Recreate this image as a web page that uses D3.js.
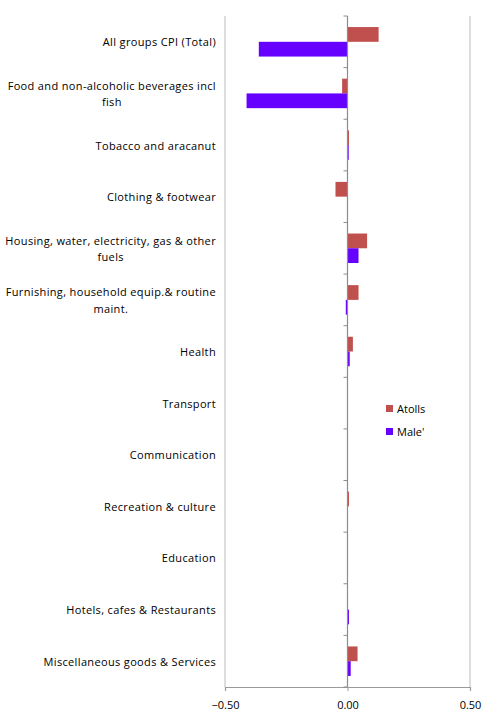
<!DOCTYPE html>
<html>
<head>
<meta charset="utf-8">
<script src="https://cdn.jsdelivr.net/npm/d3@7"></script>
<style>
  body { margin: 0; background: #fff; }
  text { font-family: "Open Sans", Lato, sans-serif; fill: #000; }
</style>
</head>
<body>
<div id="cpi-chart"></div>
<script>

// categories, top to bottom
var categories = [
    "All groups CPI (Total)",
    "Food and non-alcoholic beverages incl fish",
    "Tobacco and aracanut",
    "Clothing & footwear",
    "Housing, water, electricity, gas & other fuels",
    "Furnishing, household equip.& routine maint.",
    "Health",
    "Transport",
    "Communication",
    "Recreation & culture ",
    "Education",
    "Hotels, cafes & Restaurants ",
    "Miscellaneous goods & Services"
];

var seriesNames = ["Atolls", "Male'"];

// values
var atollsValues = [0.127, -0.022, 0.006, -0.049, 0.080, 0.045, 0.022, 0, 0, 0.006, 0, 0, 0.041];
var maleValues   = [-0.362, -0.412, 0.005, 0, 0.045, -0.007, 0.009, 0, 0, 0, 0, 0.006, 0.013];

var xTicks = [-0.5, 0, 0.5];

var colors = {"Atolls": "#C0504D", "Male'": "#6600FF"};

function CpiChart(){
    var self = this;
    self.init();
};

CpiChart.prototype.init = function(){
    var self = this;
    self.svgWidth = 482;
    self.svgHeight = 711;
    self.plot = {left: 225, right: 470, top: 16, bottom: 687};

    self.svg = d3.select("#cpi-chart").append("svg")
        .attr("width", self.svgWidth)
        .attr("height", self.svgHeight);
};

// wrap long category names, extra lines centred under the first one
CpiChart.prototype.wrap = function(textSel, width){
    textSel.each(function(){
        var text = d3.select(this);
        var words = text.text().trim().split(/\s+/);
        var right = +text.attr("x");
        text.text(null);
        var line = [];
        var lines = [];
        var tspan = text.append("tspan");
        for (var i = 0; i < words.length; i++){
            line.push(words[i]);
            tspan.text(line.join(" "));
            if (tspan.node().getComputedTextLength() > width && line.length > 1){
                line.pop();
                lines.push(line.join(" "));
                line = [words[i]];
            }
        }
        lines.push(line.join(" "));
        tspan.text(lines[0]);
        var firstWidth = tspan.node().getComputedTextLength();
        text.text(null);
        var lh = 16.5;
        var y0 = -(lines.length - 1) * lh / 2;
        lines.forEach(function(l, k){
            text.append("tspan")
                .attr("x", k == 0 ? right : right - firstWidth / 2)
                .attr("text-anchor", k == 0 ? "end" : "middle")
                .attr("dy", k == 0 ? (y0 + 4.5) + "px" : lh + "px")
                .text(l);
        });
    });
};

CpiChart.prototype.update = function(){
    var self = this;
    var p = self.plot;

    var data = categories.map(function(c, i){
        return {category: c, values: [
            {name: seriesNames[0], value: atollsValues[i]},
            {name: seriesNames[1], value: maleValues[i]}
        ]};
    });

    var xScale = d3.scaleLinear()
        .domain([-0.5, 0.5])
        .range([p.left, p.right]);

    // gap width 150% like the excel chart
    var yScale = d3.scaleBand()
        .domain(categories)
        .range([p.top, p.bottom])
        .paddingInner(1.5 / 3.5)
        .paddingOuter(0.75 / 3.5);

    var ySeries = d3.scaleBand()
        .domain(seriesNames)
        .range([0, yScale.bandwidth()]);

    //gridlines at -0.5 and 0.5
    self.svg.append("g").selectAll("line")
        .data([-0.5, 0.5])
        .enter().append("line")
        .attr("x1", function(d){ return xScale(d); })
        .attr("x2", function(d){ return xScale(d); })
        .attr("y1", p.top)
        .attr("y2", p.bottom)
        .attr("stroke", "#c6c6c6")
        .attr("stroke-width", 1.2);

    //bottom value axis
    var xAxis = d3.axisBottom(xScale)
        .tickValues(xTicks)
        .tickSize(4)
        .tickFormat(d3.format(".2f"));

    var gx = self.svg.append("g")
        .attr("transform", "translate(0," + p.bottom + ")")
        .call(xAxis);
    gx.select(".domain").attr("stroke", "#9a9a9a").attr("stroke-width", 1.2);
    gx.selectAll(".tick line").attr("stroke", "#9a9a9a");
    gx.selectAll(".tick text")
        .attr("y", 14)
        .style("font-size", "11px")
        .style("font-family", "'Open Sans', sans-serif");

    //bars
    var groups = self.svg.append("g").selectAll("g")
        .data(data)
        .enter()
        .append("g")
        .attr("transform", function(d){ return "translate(0," + yScale(d.category) + ")"; });

    groups.selectAll("rect")
        .data(function(d){ return d.values; })
        .enter()
        .append("rect")
        .attr("x", function(d){ return xScale(Math.min(0, d.value)); })
        .attr("y", function(d){ return ySeries(d.name); })
        .attr("width", function(d){ return Math.abs(xScale(d.value) - xScale(0)); })
        .attr("height", ySeries.bandwidth())
        .attr("fill", function(d){ return colors[d.name]; });

    //category axis on the zero line, ticks at band boundaries
    var x0 = xScale(0);
    var step = yScale.step();
    var cat = self.svg.append("g");
    cat.append("line")
        .attr("x1", x0).attr("x2", x0)
        .attr("y1", p.top).attr("y2", p.bottom)
        .attr("stroke", "#8c8c8c")
        .attr("stroke-width", 1.2);
    cat.selectAll(".cat-tick")
        .data(d3.range(categories.length + 1))
        .enter().append("line")
        .attr("class", "cat-tick")
        .attr("x1", x0 - 4).attr("x2", x0)
        .attr("y1", function(i){ return p.top + i * step; })
        .attr("y2", function(i){ return p.top + i * step; })
        .attr("stroke", "#8c8c8c");

    //category labels
    var labels = self.svg.append("g").selectAll("text")
        .data(categories)
        .enter().append("text")
        .attr("x", 216)
        .attr("y", function(d){ return yScale(d) + yScale.bandwidth() / 2; })
        .attr("text-anchor", "end")
        .style("font-size", "11px")
        .style("letter-spacing", "0.35px")
        .text(function(d){ return d; });
    self.wrap(labels, 212);

    //legend
    var legend = self.svg.append("g")
        .attr("transform", "translate(386,405)");
    var items = legend.selectAll("g")
        .data(seriesNames)
        .enter().append("g")
        .attr("transform", function(d, i){ return "translate(0," + (i * 23) + ")"; });
    items.append("rect")
        .attr("width", 7)
        .attr("height", 7)
        .attr("fill", function(d){ return colors[d]; });
    items.append("text")
        .attr("x", 11)
        .attr("y", 8)
        .style("font-size", "11px")
        .text(function(d){ return d; });
};

var chart = new CpiChart();
chart.update();

</script>
</body>
</html>
